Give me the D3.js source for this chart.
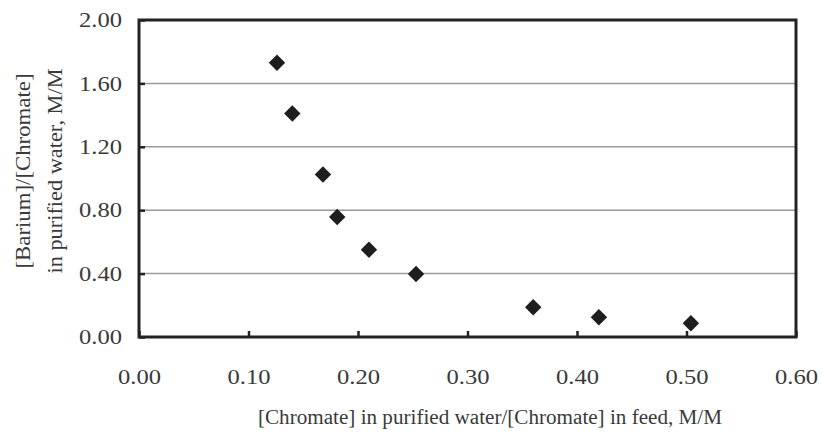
<!DOCTYPE html>
<html>
<head>
<meta charset="utf-8">
<script src="https://cdn.jsdelivr.net/npm/d3@7"></script>
<style>
  html, body { margin: 0; padding: 0; background: #fff; }
  svg { display: block; }
  text { font-family: "Liberation Serif", "Times New Roman", serif; fill: #3a3a3a; }
</style>
</head>
<body>
<svg id="chart" width="822" height="439"></svg>
<script>
// Data
const chromateRatio = [0.126, 0.140, 0.168, 0.181, 0.210, 0.253, 0.360, 0.420, 0.504];
const bariumRatio   = [1.73, 1.41, 1.025, 0.757, 0.551, 0.398, 0.188, 0.125, 0.087];
const xTicks = [0.0, 0.1, 0.2, 0.3, 0.4, 0.5, 0.6];
const yTicks = [0.0, 0.4, 0.8, 1.2, 1.6, 2.0];
const xTitle = "[Chromate] in purified water/[Chromate] in feed, M/M";
const yTitleLines = ["[Barium]/[Chromate]", "in purified water, M/M"];

const svg = d3.select("#chart");
const pLeft = 139, pRight = 796, pTop = 20, pBottom = 337;

const x = d3.scaleLinear().domain([0, 0.6]).range([pLeft, pRight]);
const y = d3.scaleLinear().domain([0, 2.0]).range([pBottom, pTop]);

// gridlines
svg.append("g").selectAll("line").data(yTicks.filter(d => d > 0 && d < 2))
  .join("line")
  .attr("x1", pLeft).attr("x2", pRight)
  .attr("y1", d => y(d)).attr("y2", d => y(d))
  .attr("stroke", "#9a9a9a").attr("stroke-width", 1.5);

// x axis (ticks inward)
const xAxis = d3.axisBottom(x).tickValues(xTicks).tickFormat(d3.format(".2f")).tickSize(-6).tickPadding(47);
const gx = svg.append("g").attr("transform", `translate(0,${pBottom})`).call(xAxis);
gx.select(".domain").remove();
gx.selectAll(".tick line").attr("stroke", "#222").attr("stroke-width", 2.5);
gx.selectAll(".tick text").attr("font-size", 21).attr("fill", "#3a3a3a")
  .attr("font-family", "Liberation Serif").attr("dy", "0")
  .attr("textLength", 43).attr("lengthAdjust", "spacingAndGlyphs");

// y axis (ticks inward)
const yAxis = d3.axisLeft(y).tickValues(yTicks).tickFormat(d3.format(".2f")).tickSize(-6).tickPadding(17);
const gy = svg.append("g").attr("transform", `translate(${pLeft},0)`).call(yAxis);
gy.select(".domain").remove();
gy.selectAll(".tick line").attr("stroke", "#222").attr("stroke-width", 2.5);
gy.selectAll(".tick text").attr("font-size", 21).attr("fill", "#3a3a3a")
  .attr("font-family", "Liberation Serif")
  .attr("textLength", 43).attr("lengthAdjust", "spacingAndGlyphs");

// frame
svg.append("rect").attr("x", pLeft).attr("y", pTop)
  .attr("width", pRight - pLeft).attr("height", pBottom - pTop)
  .attr("fill", "none").attr("stroke", "#222").attr("stroke-width", 3);

// markers
svg.append("g").selectAll("path").data(chromateRatio.map((c, i) => [c, bariumRatio[i]]))
  .join("path")
  .attr("d", d3.symbol().type(d3.symbolSquare).size(135))
  .attr("transform", d => `translate(${x(d[0])},${y(d[1])}) rotate(45)`)
  .attr("fill", "#1e1e1e");

// titles
svg.append("text").attr("x", 490).attr("y", 424).attr("text-anchor", "middle")
  .attr("font-size", 20).attr("textLength", 464).attr("lengthAdjust", "spacingAndGlyphs")
  .text(xTitle);

const yt = svg.append("text").attr("transform", `translate(0,171) rotate(-90)`)
  .attr("text-anchor", "middle").attr("font-size", 20);
yt.append("tspan").attr("x", 0).attr("y", 30).attr("textLength", 195)
  .attr("lengthAdjust", "spacingAndGlyphs").text(yTitleLines[0]);
yt.append("tspan").attr("x", 0).attr("y", 62).attr("textLength", 205)
  .attr("lengthAdjust", "spacingAndGlyphs").text(yTitleLines[1]);
</script>
</body>
</html>
